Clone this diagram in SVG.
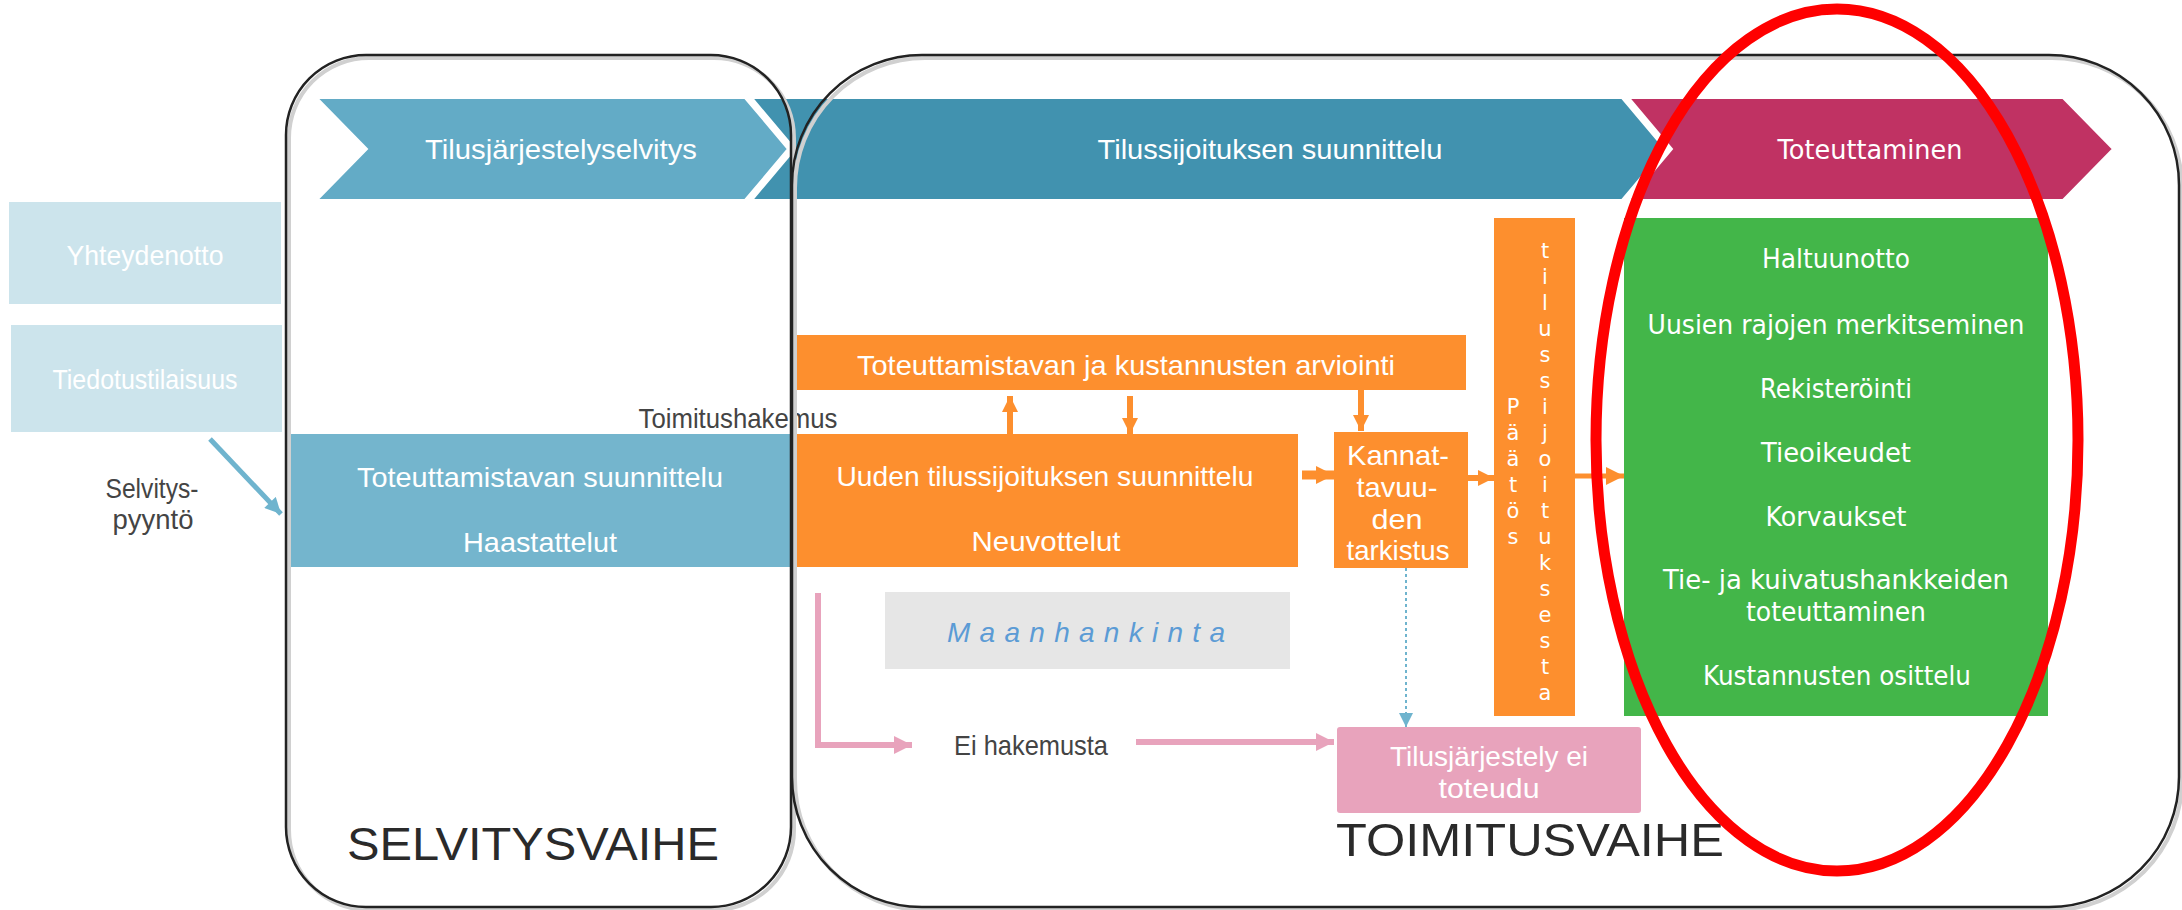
<svg xmlns="http://www.w3.org/2000/svg" width="2182" height="910" viewBox="0 0 2182 910">
<style>
.c{font-family:"Liberation Sans Narrow","Liberation Sans",sans-serif;font-size:28px;fill:#fff;text-anchor:middle;dominant-baseline:central}
.d{fill:#444}
.g{font-family:"DejaVu Sans","Liberation Sans",sans-serif;font-size:26px;fill:#fff;text-anchor:middle;dominant-baseline:central}
.v{font-family:"DejaVu Sans","Liberation Sans",sans-serif;font-size:21px;fill:#fff;text-anchor:middle;dominant-baseline:central}
.big{font-family:"Liberation Sans Narrow","Liberation Sans",sans-serif;font-size:46px;fill:#2a2a2a;dominant-baseline:central}
.frame{fill:none;stroke:#222;stroke-width:2.5}
.shadow{fill:none;stroke:#d0d0d0;stroke-width:4}
.or{fill:#FD8F2E}
.oa{stroke:#FD8F2E;fill:none}
.pk{stroke:#E8A3BC;fill:none;stroke-width:6}
</style>
<defs>
<marker id="ha" viewBox="0 0 10 10" refX="10" refY="5" markerWidth="16" markerHeight="18" markerUnits="userSpaceOnUse" orient="auto"><path d="M0,0L10,5L0,10Z" fill="#FD8F2E"/></marker>
<marker id="hb" viewBox="0 0 10 10" refX="10" refY="5" markerWidth="18" markerHeight="22" markerUnits="userSpaceOnUse" orient="auto"><path d="M0,0L10,5L0,10Z" fill="#FD8F2E"/></marker>
<marker id="hp" viewBox="0 0 10 10" refX="10" refY="5" markerWidth="18" markerHeight="22" markerUnits="userSpaceOnUse" orient="auto"><path d="M0,0L10,5L0,10Z" fill="#E8A3BC"/></marker>
<marker id="hl" viewBox="0 0 10 10" refX="10" refY="5" markerWidth="14" markerHeight="16" markerUnits="userSpaceOnUse" orient="auto"><path d="M0,0L10,5L0,10Z" fill="#6FB4CE"/></marker>
<marker id="hs" viewBox="0 0 10 10" refX="10" refY="5" markerWidth="18" markerHeight="16" markerUnits="userSpaceOnUse" orient="auto"><path d="M0,0L10,5L0,10Z" fill="#6FB4CE"/></marker>
</defs>

<g id="chevrons">
<polygon points="1629,98 2063,98 2113,149 2063,200 1629,200 1672,149" fill="#C03263" stroke="#fff" stroke-width="2"/>
<polygon points="752,98 1622,98 1665,149 1622,200 752,200 795,149" fill="#4192AF" stroke="#fff" stroke-width="2"/>
<polygon points="317,98 745,98 788,149 745,200 317,200 367,149" fill="#63ABC6" stroke="#fff" stroke-width="2"/>
<text class="c" x="561" y="149" textLength="272" lengthAdjust="spacingAndGlyphs">Tilusjärjestelyselvitys</text>
<text class="c" x="1270" y="149" textLength="345" lengthAdjust="spacingAndGlyphs">Tilussijoituksen suunnittelu</text>
<text class="g" x="1870" y="150" font-size="27" textLength="185" lengthAdjust="spacingAndGlyphs">Toteuttaminen</text>
</g>

<g id="yhteydenotto">
<rect x="9" y="202" width="272" height="102" fill="#CCE4EC"/>
<text class="c" x="145" y="255" textLength="157" lengthAdjust="spacingAndGlyphs">Yhteydenotto</text>
</g>
<g id="tiedotustilaisuus">
<rect x="11" y="325" width="271" height="107" fill="#CCE4EC"/>
<text class="c" x="145" y="379" textLength="185" lengthAdjust="spacingAndGlyphs">Tiedotustilaisuus</text>
</g>

<g id="toteuttamistavan-suunnittelu">
<rect x="290" y="434" width="501" height="133" fill="#74B5CD"/>
<text class="c" x="540" y="477" textLength="366" lengthAdjust="spacingAndGlyphs">Toteuttamistavan suunnittelu</text>
<text class="c" x="540" y="542" textLength="154" lengthAdjust="spacingAndGlyphs">Haastattelut</text>
</g>

<g id="arviointi">
<rect class="or" x="791" y="335" width="675" height="55"/>
<text class="c" x="1126" y="365" textLength="538" lengthAdjust="spacingAndGlyphs">Toteuttamistavan ja kustannusten arviointi</text>
</g>

<g id="uuden-tilussijoituksen-suunnittelu">
<rect class="or" x="791" y="434" width="507" height="133"/>
<text class="c" x="1045" y="476" textLength="417" lengthAdjust="spacingAndGlyphs">Uuden tilussijoituksen suunnittelu</text>
<text class="c" x="1046" y="541" textLength="149" lengthAdjust="spacingAndGlyphs">Neuvottelut</text>
</g>

<g id="kannattavuus">
<rect class="or" x="1334" y="432" width="134" height="136"/>
<text class="c" x="1398" y="455" textLength="102" lengthAdjust="spacingAndGlyphs">Kannat-</text>
<text class="c" x="1397" y="487" textLength="81" lengthAdjust="spacingAndGlyphs">tavuu-</text>
<text class="c" x="1397" y="519" textLength="51" lengthAdjust="spacingAndGlyphs">den</text>
<text class="c" x="1398" y="550" textLength="103" lengthAdjust="spacingAndGlyphs">tarkistus</text>
</g>

<g id="paatos">
<rect class="or" x="1494" y="218" width="81" height="498"/>
<text class="v" x="1513" y="407">P<tspan x="1513" dy="26">ä</tspan><tspan x="1513" dy="26">ä</tspan><tspan x="1513" dy="26">t</tspan><tspan x="1513" dy="26">ö</tspan><tspan x="1513" dy="26">s</tspan></text>
<text class="v" x="1545" y="251">t<tspan x="1545" dy="26">i</tspan><tspan x="1545" dy="26">l</tspan><tspan x="1545" dy="26">u</tspan><tspan x="1545" dy="26">s</tspan><tspan x="1545" dy="26">s</tspan><tspan x="1545" dy="26">i</tspan><tspan x="1545" dy="26">j</tspan><tspan x="1545" dy="26">o</tspan><tspan x="1545" dy="26">i</tspan><tspan x="1545" dy="26">t</tspan><tspan x="1545" dy="26">u</tspan><tspan x="1545" dy="26">k</tspan><tspan x="1545" dy="26">s</tspan><tspan x="1545" dy="26">e</tspan><tspan x="1545" dy="26">s</tspan><tspan x="1545" dy="26">t</tspan><tspan x="1545" dy="26">a</tspan></text>
</g>

<g id="toteuttaminen">
<rect x="1624" y="218" width="424" height="498" fill="#43B649"/>
<text class="g" x="1836" y="259" textLength="148" lengthAdjust="spacingAndGlyphs">Haltuunotto</text>
<text class="g" x="1836" y="325" textLength="377" lengthAdjust="spacingAndGlyphs">Uusien rajojen merkitseminen</text>
<text class="g" x="1836" y="389" textLength="152" lengthAdjust="spacingAndGlyphs">Rekisteröinti</text>
<text class="g" x="1836" y="453" textLength="150" lengthAdjust="spacingAndGlyphs">Tieoikeudet</text>
<text class="g" x="1836" y="517" textLength="141" lengthAdjust="spacingAndGlyphs">Korvaukset</text>
<text class="g" x="1836" y="580" textLength="346" lengthAdjust="spacingAndGlyphs">Tie- ja kuivatushankkeiden</text>
<text class="g" x="1836" y="612" textLength="180" lengthAdjust="spacingAndGlyphs">toteuttaminen</text>
<text class="g" x="1837" y="676" textLength="268" lengthAdjust="spacingAndGlyphs">Kustannusten osittelu</text>
</g>

<g id="maanhankinta">
<rect x="885" y="592" width="405" height="77" fill="#E6E6E6"/>
<text class="c" x="947" y="632" style="text-anchor:start;fill:#5B9BD5;font-style:italic" textLength="278" lengthAdjust="spacing">Maanhankinta</text>
</g>

<g id="ei-toteudu">
<rect x="1337" y="727" width="304" height="86" rx="3" fill="#E8A3BC"/>
<text class="c" x="1489" y="756" textLength="198" lengthAdjust="spacingAndGlyphs">Tilusjärjestely ei</text>
<text class="c" x="1489" y="788" textLength="101" lengthAdjust="spacingAndGlyphs">toteudu</text>
</g>

<g id="labels">
<text class="c d" x="152" y="488" textLength="93" lengthAdjust="spacingAndGlyphs">Selvitys-</text>
<text class="c d" x="153" y="519" textLength="81" lengthAdjust="spacingAndGlyphs">pyyntö</text>
<text class="c d" x="738" y="418" font-size="26" textLength="199" lengthAdjust="spacingAndGlyphs">Toimitushakemus</text>
<text class="c d" x="1031" y="745" font-size="26" textLength="154" lengthAdjust="spacingAndGlyphs">Ei hakemusta</text>
</g>

<g id="connectors">
<line x1="210" y1="439" x2="281" y2="514" stroke="#6FB4CE" stroke-width="5" marker-end="url(#hs)"/>
<line class="oa" x1="1010" y1="434" x2="1010" y2="396" stroke-width="6" marker-end="url(#ha)"/>
<line class="oa" x1="1130" y1="396" x2="1130" y2="434" stroke-width="6" marker-end="url(#ha)"/>
<line class="oa" x1="1361" y1="390" x2="1361" y2="431" stroke-width="6" marker-end="url(#ha)"/>
<line class="oa" x1="1302" y1="475" x2="1334" y2="475" stroke-width="9" marker-end="url(#hb)"/>
<line class="oa" x1="1468" y1="478" x2="1494" y2="478" stroke-width="6" marker-end="url(#ha)"/>
<line class="oa" x1="1575" y1="476" x2="1624" y2="476" stroke-width="5" marker-end="url(#hb)"/>
<polyline class="pk" points="818,593 818,745 912,745" marker-end="url(#hp)"/>
<line class="pk" x1="1136" y1="742" x2="1334" y2="742" marker-end="url(#hp)"/>
<line x1="1406" y1="568" x2="1406" y2="727" stroke="#6FB4CE" stroke-width="2" stroke-dasharray="3 3" marker-end="url(#hl)"/>
</g>

<g id="selvitysvaihe">
<rect class="shadow" x="289" y="58" width="505" height="852" rx="80"/>
<rect class="frame" x="286" y="55" width="505" height="852" rx="80"/>
<text class="big" x="347" y="844" textLength="372" lengthAdjust="spacingAndGlyphs">SELVITYSVAIHE</text>
</g>

<g id="toimitusvaihe">
<rect class="shadow" x="795" y="58" width="1387" height="852" rx="130"/>
<rect class="frame" x="792" y="55" width="1387" height="852" rx="130"/>
<text class="big" x="1336" y="840" textLength="388" lengthAdjust="spacingAndGlyphs">TOIMITUSVAIHE</text>
</g>

<ellipse id="highlight" cx="1837" cy="440" rx="241" ry="431" fill="none" stroke="#FF0000" stroke-width="11"/>
</svg>
